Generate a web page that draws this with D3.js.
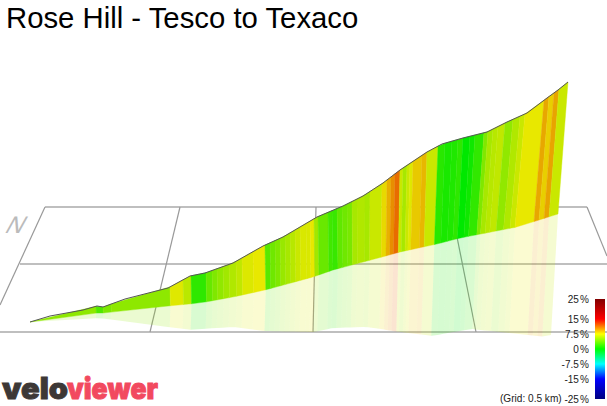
<!DOCTYPE html>
<html><head><meta charset="utf-8">
<script src="https://cdn.jsdelivr.net/npm/d3@7"></script>
<style>html,body{margin:0;padding:0;background:#fff}svg{display:block}text{font-family:"Liberation Sans",Arial,sans-serif}</style>
</head><body><svg id="c" width="607" height="406"></svg>
<script>
const titleText = "Rose Hill - Tesco to Texaco";
// band end stations (distance along the drawing) and their gradient in %
const bandEnds = [66,73,81,140,153,161,176,182,187,193,199,206,212,223,235,240,245,250,255,260,265,270,276,280,284,288,298,302,307,312,317,322,327,335,340,352,357,361,365,370,373,377,380,383,392,397,408,415,422,428,433,440,445,454,458,463,468,475,483,490,495,514,519,524,529,538];
const bandGrad = [4.6,2.6,4.0,4.6,7.2,6.0,1.5,3.3,4.1,4.7,5.2,5.7,6.2,7.1,7.5,2.8,3.6,4.1,4.9,5.4,5.9,6.5,7.0,7.0,7.5,5.2,3.4,2.1,1.8,3.1,3.6,3.9,5.4,5.7,5.4,6.5,8.0,9.3,10.4,11.5,6.5,5.4,6.5,7.2,8.5,9.1,6.5,1.3,0.8,1.0,1.5,0,0.5,1.6,4.1,5.4,5.9,6.2,4.7,5.7,6.5,7.5,9.6,8.3,9.7,6.5];
// upper road edge
const topDist = [0,20,53,67,73,95,138,160,175,203,233,253,287,313,333,353,370,397,412,433,457,477,497,517,528,538];
const topElev = [0,6,12,16,15,23,34,46,49,59,76,85,105,116,126,139,152,170,178,184,190,200,209,224,232,240];
// lower road edge
const baseDist = [0,45,67,73,138,170,203,235,283,303,352,370,407,430,487,528];
const baseElev = [0,6,9,9,16,19,25,32,45,52,65,70,78,84,95,108];
// lower edge of the reflection
const floorDist = [0,70,120,163,170,203,235,283,303,337,370,403,423,442,470,517,521];
const floorElev = [0,4,-3,-8,-7,-5,-9,-10,-6,-5,-10,-14,-10,-7,-10,-15,-13];
// where a station on the upper edge lands on the lower edge / floor
const leanFrom = [0,310,400,490,538], leanTo = [0,311,397,480,528];
const dropFrom = [0,370,528], dropTo = [0,368,521];
// grid
const gridLevels = [{e:115,a:15,b:557},{e:58,a:-10,b:577},{e:-10,a:-30,b:577}];
const gridRays = [[150,115,120,-10],[286,115,283,-10],[421,115,446,-10],[15,115,-30,17],[557,115,577,66]];
// legend
const legendStops = [25,15,7.5,0,-7.5,-15,-25];
const legendFull = ["#800000","#ff0000","#ffff00","#00ff00","#00ffff","#0000ff","#000080"];
const legendWall = ["#740000","#e80000","#e8e800","#00e800","#00e8e8","#0000e8","#000074"];
const gridNote = "(Grid: 0.5 km)";

const svg = d3.select("#c");
const x = d3.scaleLinear().domain([0,538]).range([30,568]);
const y = d3.scaleLinear().domain([0,240]).range([322,82]);
const topE = d3.scaleLinear().domain(topDist).range(topElev);
const baseE = d3.scaleLinear().domain(baseDist).range(baseElev);
const floorE = d3.scaleLinear().domain(floorDist).range(floorElev);
const lean = d3.scaleLinear().domain(leanFrom).range(leanTo);
const drop = d3.scaleLinear().domain(dropFrom).range(dropTo);
const wall = d3.scaleLinear().domain(legendStops).range(legendWall);
const line = d3.line().x(d=>x(d[0])).y(d=>y(d[1]));
const poly = p => line(p)+"Z";

// grid
const g = svg.append("g").attr("stroke","#aaa").attr("fill","none");
g.selectAll(".h").data(gridLevels).join("line").attr("stroke-width",1.6)
  .attr("x1",d=>x(d.a)).attr("x2",d=>x(d.b)).attr("y1",d=>y(d.e)).attr("y2",d=>y(d.e));
g.selectAll(".r").data(gridRays).join("line").attr("stroke-width",1.2).attr("stroke","#999")
  .attr("x1",d=>x(d[0])).attr("y1",d=>y(d[1])).attr("x2",d=>x(d[2])).attr("y2",d=>y(d[3]));

// compass
svg.append("text").text("N").attr("transform","translate(3.5,233) skewX(-29)")
  .attr("font-size",24).attr("fill","#bbb");

// bands
const bands = bandEnds.map((e,i)=>({a:i?bandEnds[i-1]:0,b:e,g:bandGrad[i]}));
svg.append("g").selectAll("path").data(bands).join("path")
  .attr("d",d=>{const a=lean(d.a),b=lean(d.b);
    return poly([[a,baseE(a)],[b,baseE(b)],[drop(b),floorE(drop(b))],[drop(a),floorE(drop(a))]]);})
  .attr("fill",d=>wall(d.g)).attr("fill-opacity",0.18);
svg.append("g").selectAll("path").data(bands).join("path")
  .attr("d",d=>{const a=lean(d.a),b=lean(d.b);
    return poly([[d.a,topE(d.a)],[d.b,topE(d.b)],[b,baseE(b)],[a,baseE(a)]]);})
  .attr("fill",d=>wall(d.g)).attr("stroke",d=>wall(d.g)).attr("stroke-width",0.4);
svg.append("path").attr("d",line(topDist.map((d,i)=>[d,topElev[i]])))
  .attr("fill","none").attr("stroke","#555").attr("stroke-width",1);

// title
svg.append("text").text(titleText).attr("x",6).attr("y",28).attr("font-size",29.3).attr("fill","#000");

// legend
const ly = d3.scaleLinear().domain([25,-25]).range([299,399]);
const grad = svg.append("defs").append("linearGradient").attr("id","lg").attr("x1",0).attr("x2",0).attr("y1",0).attr("y2",1);
legendStops.forEach((s,i)=>grad.append("stop").attr("offset",(ly(s)-299)/100).attr("stop-color",legendFull[i]));
svg.append("rect").attr("x",595).attr("y",ly(25)).attr("width",10).attr("height",ly(-25)-ly(25)).attr("fill","url(#lg)");
const ax = svg.append("g").attr("transform","translate(589,0)")
  .call(d3.axisLeft(ly).tickValues(legendStops).tickSize(0).tickPadding(0).tickFormat(d=>d+" %"));
ax.select(".domain").remove();
ax.selectAll("text").attr("font-size",10).attr("word-spacing",-1.5).attr("fill","#222")
  .style("font-family",'"Liberation Sans",Arial,sans-serif');
svg.append("text").text(gridNote).attr("x",500).attr("y",ly(-25)+3.3).attr("font-size",10.1).attr("fill","#222");

// logo
svg.append("text").text("velo").attr("x",2).attr("y",398.5).attr("font-size",29.5).attr("font-weight",900)
  .attr("textLength",66).attr("lengthAdjust","spacingAndGlyphs").attr("fill","#3d3836")
  .attr("stroke","#3d3836").attr("stroke-width",0.9).style("font-family","Inter");
svg.append("text").text("viewer").attr("x",67).attr("y",398.5).attr("font-size",29.5).attr("font-weight",900)
  .attr("textLength",91).attr("lengthAdjust","spacingAndGlyphs").attr("fill","#f2495f")
  .attr("stroke","#f2495f").attr("stroke-width",0.9).style("font-family","Inter");
</script></body></html>
